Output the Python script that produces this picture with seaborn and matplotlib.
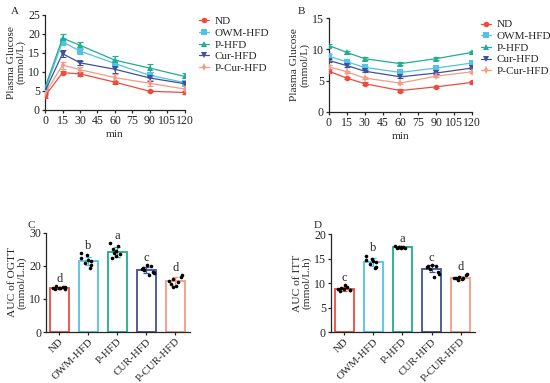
import numpy as np
import pandas as pd
import matplotlib
matplotlib.use('Agg')
import matplotlib.pyplot as plt
import seaborn as sns

# Groups and colours
groups = ['ND', 'OWM-HFD', 'P-HFD', 'Cur-HFD', 'P-Cur-HFD']
bar_labels = ['ND', 'OWM-HFD', 'P-HFD', 'CUR-HFD', 'P-CUR-HFD']
colors = ['#EE4B3E', '#52C3E6', '#1FAE8E', '#3F519C', '#F89A82']
markers = ['o', 's', '^', 'v', 'd']

# Time points (min)
times = [0, 15, 30, 60, 90, 120]

# OGTT plasma glucose (mmol/L), mean and sd per group
ogtt_nd = [3.7, 9.8, 9.5, 7.3, 4.9, 4.6]
ogtt_owm = [5.4, 17.9, 15.5, 12.2, 9.1, 7.2]
ogtt_p = [6.0, 18.9, 17.0, 13.1, 11.0, 8.8]
ogtt_cur = [5.0, 14.8, 12.4, 10.7, 8.4, 6.9]
ogtt_pcur = [4.4, 11.8, 10.6, 8.5, 7.0, 5.5]
ogtt_sd_nd = [0.5, 0.4, 0.5, 0.4, 0.3, 0.4]
ogtt_sd_owm = [0.6, 0.9, 0.9, 0.9, 0.8, 0.6]
ogtt_sd_p = [0.6, 1.0, 1.0, 1.0, 1.0, 0.9]
ogtt_sd_cur = [0.6, 0.9, 0.6, 0.9, 0.8, 0.5]
ogtt_sd_pcur = [0.5, 0.9, 0.8, 0.9, 0.8, 0.7]

# ITT plasma glucose (mmol/L)
itt_nd = [6.5, 5.4, 4.5, 3.4, 4.0, 4.7]
itt_owm = [8.9, 8.0, 7.1, 6.3, 7.0, 7.8]
itt_p = [10.6, 9.5, 8.5, 7.7, 8.5, 9.5]
itt_cur = [8.2, 7.4, 6.5, 5.6, 6.2, 7.0]
itt_pcur = [7.2, 6.4, 5.4, 4.6, 5.7, 6.4]
itt_sd = [0.3, 0.2, 0.2, 0.2, 0.2, 0.2]

# AUC of OGTT (mmol/L.h): bar means, sd, individual values
auc_ogtt_mean = [13.3, 21.5, 24.2, 18.9, 15.3]
auc_ogtt_sd = [0.3, 1.3, 1.5, 0.9, 1.4]
ogtt_pts_nd = [13.2, 13.6, 13.9, 13.4, 13.1, 13.7, 13.3, 12.9]
ogtt_pts_owm = [23.9, 23.3, 22.5, 21.8, 21.5, 21.0, 20.2, 19.4]
ogtt_pts_p = [26.8, 26.0, 25.0, 24.5, 24.0, 23.5, 23.0, 22.5]
ogtt_pts_cur = [20.2, 20.0, 19.5, 19.0, 18.8, 18.3, 17.8, 17.3]
ogtt_pts_pcur = [17.3, 16.8, 16.0, 15.5, 15.0, 14.0, 13.5, 14.5]
ogtt_letters = ['d', 'b', 'a', 'c', 'd']

# AUC of ITT (mmol/L.h)
auc_itt_mean = [8.8, 14.3, 17.3, 12.9, 11.1]
auc_itt_sd = [0.4, 0.8, 0.15, 0.7, 0.4]
itt_pts_nd = [9.6, 9.2, 9.0, 8.8, 8.6, 8.5, 8.7, 8.4]
itt_pts_owm = [15.6, 15.0, 14.6, 14.4, 14.2, 13.8, 13.3, 13.1]
itt_pts_p = [17.5, 17.4, 17.3, 17.2, 17.4, 17.1, 17.3, 17.2]
itt_pts_cur = [13.6, 13.5, 13.4, 13.2, 12.8, 12.3, 11.8, 11.3]
itt_pts_pcur = [11.9, 11.6, 11.3, 11.1, 11.0, 10.8, 10.7, 11.0]
itt_letters = ['c', 'b', 'a', 'c', 'd']

sns.set_style('ticks')
plt.rcParams['font.family'] = ['Liberation Serif', 'DejaVu Serif']
plt.rcParams['font.size'] = 8.2
plt.rcParams['xtick.labelsize'] = 8.6
plt.rcParams['ytick.labelsize'] = 8.6
plt.rcParams['axes.linewidth'] = 0.9
plt.rcParams['xtick.major.size'] = 2.5
plt.rcParams['ytick.major.size'] = 2.5
plt.rcParams['xtick.major.width'] = 0.9
plt.rcParams['ytick.major.width'] = 0.9
plt.rcParams['xtick.major.pad'] = 1.5
plt.rcParams['ytick.major.pad'] = 1.2

fig = plt.figure(figsize=(5.5, 3.83), dpi=100)
axA = fig.add_axes([0.082, 0.713, 0.254, 0.248])
axB = fig.add_axes([0.598, 0.708, 0.260, 0.245])
axC = fig.add_axes([0.084, 0.133, 0.261, 0.259])
axD = fig.add_axes([0.602, 0.133, 0.262, 0.256])


def line_panel(ax, series, sds, ymax, yticks, leg_x):
    rows = []
    for g, vals in zip(groups, series):
        for t, v in zip(times, vals):
            rows.append({'min': t, 'val': v, 'group': g})
    df = pd.DataFrame(rows)
    for g, vals, sd, c in zip(groups, series, sds, colors):
        ax.errorbar(times, vals, yerr=sd, fmt='none', ecolor=c, elinewidth=0.8,
                    capsize=2, capthick=0.8, zorder=2)
    sns.lineplot(data=df, x='min', y='val', hue='group', style='group',
                 palette=colors, markers=markers, dashes=False, ax=ax,
                 linewidth=0.9, markersize=4, markeredgewidth=0, zorder=3)
    ax.set_xlim(0, 120)
    ax.set_ylim(0, ymax)
    ax.set_xticks(range(0, 121, 15))
    ax.set_yticks(yticks)
    ax.set_xlabel('min', labelpad=2)
    ax.set_ylabel('Plasma Glucose\n(mmol/L)', labelpad=1.5, linespacing=1.1)
    sns.despine(ax=ax)
    ax.legend(loc='upper left', bbox_to_anchor=(leg_x, 1.03), frameon=False,
              handlelength=0.9, handletextpad=0.5, labelspacing=0.17,
              borderaxespad=0, fontsize=8)


line_panel(axA, [ogtt_nd, ogtt_owm, ogtt_p, ogtt_cur, ogtt_pcur],
           [ogtt_sd_nd, ogtt_sd_owm, ogtt_sd_p, ogtt_sd_cur, ogtt_sd_pcur],
           25, range(0, 26, 5), 1.07)
line_panel(axB, [itt_nd, itt_owm, itt_p, itt_cur, itt_pcur],
           [itt_sd] * 5, 15, range(0, 16, 5), 1.03)


def bar_panel(ax, means, sds, points, letters, ymax, yticks, ylabel):
    np.random.seed(3)
    bdf = pd.DataFrame({'group': bar_labels, 'auc': means})
    sns.barplot(data=bdf, x='group', y='auc', hue='group', palette=colors,
                fill=False, width=0.64, linewidth=1.3, legend=False, ax=ax)
    for i, (m, s, c) in enumerate(zip(means, sds, colors)):
        ax.errorbar(i, m, yerr=s, fmt='none', ecolor=c, elinewidth=0.9,
                    capsize=2.5, capthick=0.9, zorder=4)
    rows = []
    for g, pts in zip(bar_labels, points):
        for p in pts:
            rows.append({'group': g, 'auc': p})
    pdf = pd.DataFrame(rows)
    sns.stripplot(data=pdf, x='group', y='auc', color='black', size=2.6,
                  jitter=0.27, ax=ax, zorder=5)
    for i, (pts, l) in enumerate(zip(points, letters)):
        ax.text(i, max(pts) + ymax * 0.012, l, ha='center', va='bottom',
                fontsize=9)
    ax.set_xlim(-0.45, 4.5)
    ax.set_ylim(0, ymax)
    ax.set_yticks(yticks)
    ax.set_xlabel('')
    ax.set_ylabel(ylabel, labelpad=1.5, linespacing=1.1)
    ax.tick_params(axis='x', rotation=45, labelsize=7.8, pad=1)
    for lab in ax.get_xticklabels():
        lab.set_ha('right')
        lab.set_rotation_mode('anchor')
    sns.despine(ax=ax)


bar_panel(axC, auc_ogtt_mean, auc_ogtt_sd,
          [ogtt_pts_nd, ogtt_pts_owm, ogtt_pts_p, ogtt_pts_cur, ogtt_pts_pcur],
          ogtt_letters, 30, [0, 10, 20, 30], 'AUC of OGTT\n(mmol/L.h)')
bar_panel(axD, auc_itt_mean, auc_itt_sd,
          [itt_pts_nd, itt_pts_owm, itt_pts_p, itt_pts_cur, itt_pts_pcur],
          itt_letters, 20, [0, 5, 10, 15, 20], 'AUC of ITT\n(mmol/L.h)')

# Panel letters
fig.text(11 / 550, 1 - 12 / 383, 'A', fontsize=8, va='center')
fig.text(298 / 550, 1 - 12 / 383, 'B', fontsize=8, va='center')
fig.text(27 / 550, 1 - 225 / 383, 'C', fontsize=8, va='center')
fig.text(314 / 550, 1 - 225 / 383, 'D', fontsize=8, va='center')

fig.savefig('out.png', dpi=100)
